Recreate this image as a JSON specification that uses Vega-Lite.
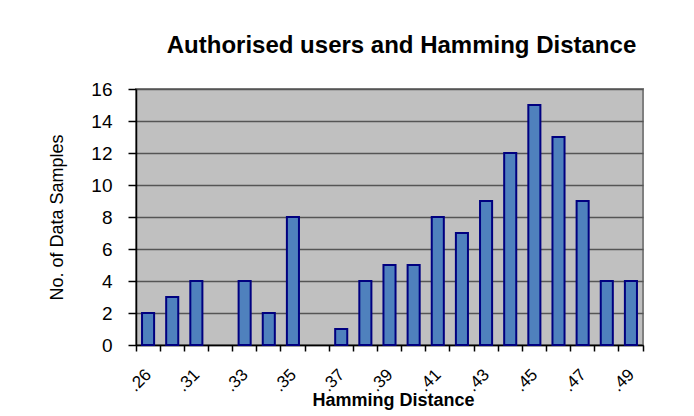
{
  "$schema": "https://vega.github.io/schema/vega-lite/v6.json",
  "width": 507,
  "height": 256,
  "autosize": "none",
  "padding": {"left": 136, "top": 89, "right": 51, "bottom": 71},
  "background": "white",
  "title": {
    "text": "Authorised users and Hamming Distance",
    "font": "Liberation Sans",
    "fontSize": 24,
    "fontWeight": "bold",
    "color": "black",
    "anchor": "middle",
    "frame": "group",
    "dx": 12,
    "offset": 3,
    "baseline": "alphabetic"
  },
  "data": {
    "values": [
      {"hd": ".26", "n": 2},
      {"hd": ".30", "n": 3},
      {"hd": ".31", "n": 4},
      {"hd": ".32", "n": 0},
      {"hd": ".33", "n": 4},
      {"hd": ".34", "n": 2},
      {"hd": ".35", "n": 8},
      {"hd": ".36", "n": 0},
      {"hd": ".37", "n": 1},
      {"hd": ".38", "n": 4},
      {"hd": ".39", "n": 5},
      {"hd": ".40", "n": 5},
      {"hd": ".41", "n": 8},
      {"hd": ".42", "n": 7},
      {"hd": ".43", "n": 9},
      {"hd": ".44", "n": 12},
      {"hd": ".45", "n": 15},
      {"hd": ".46", "n": 13},
      {"hd": ".47", "n": 9},
      {"hd": ".48", "n": 4},
      {"hd": ".49", "n": 4}
    ]
  },
  "mark": {"type": "bar", "width": {"band": 0.5}, "fill": "#4F81BD", "stroke": "#000080"},
  "encoding": {
    "x": {
      "field": "hd",
      "type": "ordinal",
      "sort": null,
      "scale": {"paddingInner": 0, "paddingOuter": 0},
      "axis": {
        "bandPosition": 1,
        "tickExtra": true,
        "labelOffset": -5,
        "labelExpr": "indexof(['.26','.31','.33','.35','.37','.39','.41','.43','.45','.47','.49'], datum.label) >= 0 ? datum.label : ''",
        "labelAngle": -45,
        "labelFont": "Liberation Sans",
        "labelFontSize": 17,
        "labelColor": "black",
        "labelPadding": 15,
        "ticks": true,
        "tickSize": 6,
        "tickColor": "black",
        "tickWidth": 1.5,
        "grid": false,
        "domain": true,
        "domainColor": "black",
        "domainWidth": 1.5,
        "title": "Hamming Distance",
        "titleFont": "Liberation Sans",
        "titleFontSize": 18,
        "titleFontWeight": "bold",
        "titleColor": "black",
        "titleX": 257,
        "titleY": 60,
        "titleBaseline": "alphabetic",
        "titleAlign": "center"
      }
    },
    "y": {
      "field": "n",
      "type": "quantitative",
      "scale": {"domain": [0, 16], "nice": false},
      "axis": {
        "values": [0, 2, 4, 6, 8, 10, 12, 14, 16],
        "grid": true,
        "gridColor": "#555555",
        "gridWidth": 1.5,
        "domainColor": "black",
        "domainWidth": 1.5,
        "tickColor": "black",
        "tickSize": 8,
        "tickWidth": 1.5,
        "labelFont": "Liberation Sans",
        "labelFontSize": 19,
        "labelColor": "black",
        "labelPadding": 16,
        "title": "No. of Data Samples",
        "titleFont": "Liberation Sans",
        "titleFontSize": 18,
        "titleFontWeight": "normal",
        "titleColor": "black",
        "titleX": -70,
        "titleY": 128,
        "titleAngle": -90,
        "titleAlign": "center",
        "titleBaseline": "bottom"
      }
    },
    "strokeWidth": {"condition": {"test": "datum.n == 0", "value": 0}, "value": 2}
  },
  "config": {
    "view": {"fill": "#C0C0C0", "stroke": "#808080", "strokeWidth": 2}
  }
}
